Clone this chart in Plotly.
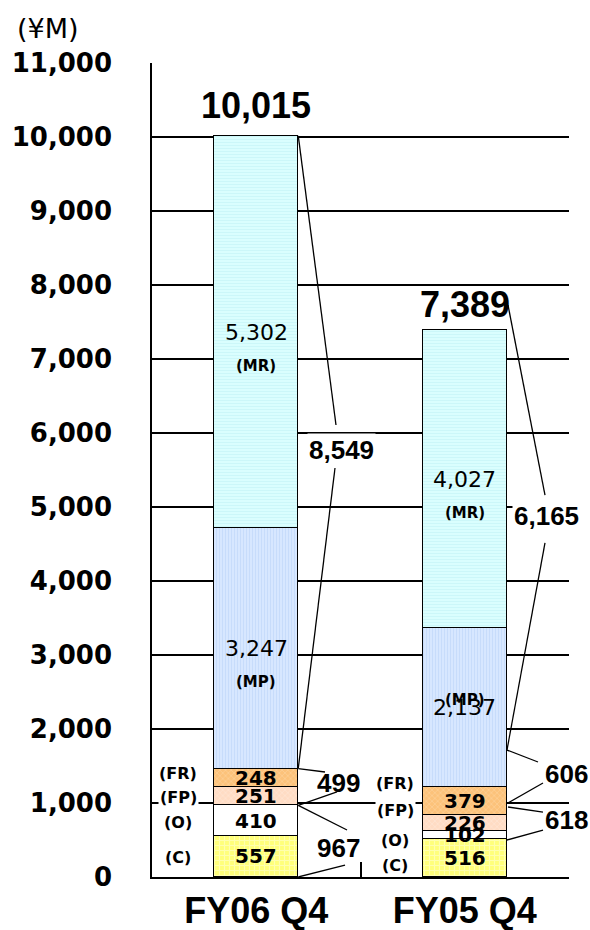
import plotly.graph_objects as go

# ---- data -------------------------------------------------------------
categories = ["FY06 Q4", "FY05 Q4"]
seg_tags = ["(C)", "(O)", "(FP)", "(FR)", "(MP)", "(MR)"]
val_c = [557, 516]
val_o = [410, 102]
val_fp = [251, 226]
val_fr = [248, 379]
val_mp = [3247, 2137]
val_mr = [5302, 4027]
totals = [10015, 7389]
sum_mp_mr = [8549, 6165]
sum_fr_fp = [499, 606]
sum_c_o = [967, 618]
y_ticks = list(range(0, 11001, 1000))

series = [val_c, val_o, val_fp, val_fr, val_mp, val_mr]

# ---- styles -----------------------------------------------------------
ARIAL = "Liberation Sans, Arial, sans-serif"
WIDE = "DejaVu Sans, Verdana, sans-serif"
BAR_W = 0.403

styles = {
    "(C)":  dict(color="#ffff7a", pattern=dict(shape="+", fgcolor="#ffffe0", size=5, solidity=0.4, fillmode="overlay")),
    "(O)":  dict(color="#ffffff"),
    "(FP)": dict(color="#ffdcc4", pattern=dict(shape="x", fgcolor="#fff0e6", size=4, solidity=0.3, fillmode="overlay")),
    "(FR)": dict(color="#fcc27a", pattern=dict(shape="x", fgcolor="#ffe2b8", size=4, solidity=0.3, fillmode="overlay")),
    "(MP)": dict(color="#dae9ff", pattern=dict(shape="|", fgcolor="#b4cff8", size=3, solidity=0.45, fillmode="overlay")),
    "(MR)": dict(color="#dcffff", pattern=dict(shape="-", fgcolor="#bcf0f4", size=3, solidity=0.45, fillmode="overlay")),
}

fig = go.Figure()
for tag, vals in zip(seg_tags, series):
    st = styles[tag]
    marker = dict(color=st["color"], line=dict(color="black", width=1.5))
    if "pattern" in st:
        marker["pattern"] = st["pattern"]
    fig.add_trace(go.Bar(x=categories, y=vals, name=tag, width=BAR_W,
                         marker=marker, showlegend=False, hoverinfo="skip"))

annotations = []


def label(x, y, text, size, family=ARIAL, bold=True, bg=None, yshift=0, xshift=0):
    annotations.append(dict(
        x=x, y=y, xref="x", yref="y", text=text, showarrow=False,
        xanchor="center", yanchor="middle", xshift=xshift, yshift=yshift,
        font=dict(family=family, size=size, color="black",
                  weight="bold" if bold else "normal"),
        bgcolor=bg, borderpad=1,
    ))


# segment values inside the bars, with the tag next to the two big segments
tag_offsets = {0: {"(MP)": -34, "(MR)": -34}, 1: {"(MP)": 7, "(MR)": -34}}
for i in range(2):
    base = 0
    for tag, vals in zip(seg_tags, series):
        v = vals[i]
        mid = base + v / 2
        if tag in ("(MP)", "(MR)"):
            label(i, mid, f"{v:,}", 22, family=WIDE, bold=False)
            label(i, mid, tag, 15, family=WIDE, yshift=tag_offsets[i][tag])
        else:
            label(i, mid, f"{v:,}", 20, family=WIDE)
        base += v

# tags beside the small segments
side_pos = {
    0: {"(FR)": 1405, "(FP)": 1081, "(O)": 743, "(C)": 270},
    1: {"(FR)": 1270, "(FP)": 905, "(O)": 500, "(C)": 162},
}
side_x = {0: -0.375, 1: 0.6655}
for i in (0, 1):
    for tag, yy in side_pos[i].items():
        label(side_x[i], yy, tag, 16, family=WIDE, bg="white")

# totals above the bars
label(0, 10432, f"{totals[0]:,}", 36)
label(1, 7730, f"{totals[1]:,}", 36)

# subtotal callouts
label(0.4065, 5770, f"{sum_mp_mr[0]:,}", 26, bg="white")
label(0.3921, 1270, f"{sum_fr_fp[0]:,}", 26)
label(0.3921, 392, f"{sum_c_o[0]:,}", 26)
label(1.3897, 4878, f"{sum_mp_mr[1]:,}", 26, bg="white")
label(1.4856, 1392, f"{sum_fr_fp[1]:,}", 26)
label(1.4856, 770, f"{sum_c_o[1]:,}", 26)

# unit label
annotations.append(dict(
    x=-0.25, y=1.042, xref="paper", yref="paper", text="(¥M)", showarrow=False,
    xanchor="center", yanchor="middle",
    font=dict(family=WIDE, size=27, color="black"),
))

# leader lines (x in category units, y in value units)
RE0 = BAR_W / 2
leaders = [
    (RE0, totals[0], 0.3825, 6108), (0.3777, 5527, RE0, 1466),
    (RE0, 1466, 0.3297, 1419), (0.3873, 1149, RE0, 967),
    (RE0, 967, 0.4353, 635), (0.4257, 162, RE0, 0),
    (1.2074, 7730, 1.3849, 5162), (1.3849, 4514, 1.2026, 1716),
    (1.2026, 1716, 1.3513, 1554), (1.3753, 1270, 1.2074, 1000),
    (1.2074, 946, 1.3753, 878), (1.3753, 635, 1.2026, 500),
]
shapes = [dict(type="line", xref="x", yref="y", x0=a, y0=b, x1=c, y1=d,
               line=dict(color="black", width=1.3), layer="above")
          for a, b, c, d in leaders]

fig.update_layout(
    width=590, height=930,
    margin=dict(l=152, r=21, t=63, b=53),
    barmode="stack", bargap=0,
    paper_bgcolor="white", plot_bgcolor="white",
    annotations=annotations, shapes=shapes,
    xaxis=dict(
        type="category", range=[-0.5, 1.5], showline=True, linecolor="black",
        linewidth=1.5, ticks="inside", tickson="boundaries", ticklen=15,
        tickcolor="black", tickwidth=1.5, showgrid=False, automargin=False,
        tickfont=dict(family=ARIAL, size=36, color="black", weight="bold"),
        ticklabelstandoff=1,
    ),
    yaxis=dict(
        range=[0, 11000], tickvals=y_ticks, tickformat=",", showline=True,
        linecolor="black", linewidth=1.5, showgrid=True, gridcolor="black",
        gridwidth=1.5, zeroline=False, ticks="", automargin=False,
        tickfont=dict(family=WIDE, size=26, color="black", weight="bold"),
        ticklabelstandoff=33,
    ),
)

fig.write_html("out.html")
